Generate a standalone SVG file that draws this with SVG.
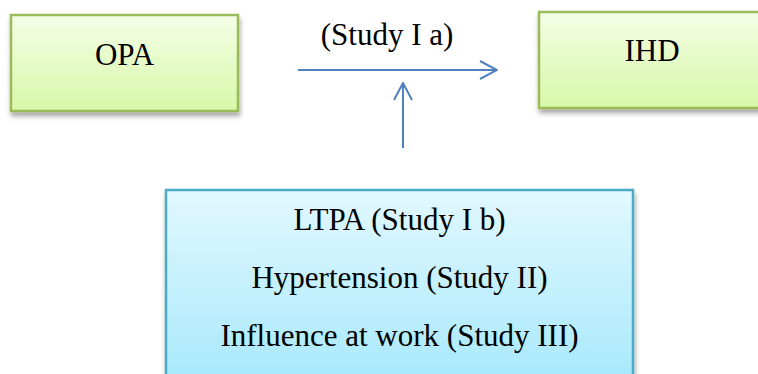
<svg xmlns="http://www.w3.org/2000/svg" width="758" height="374" viewBox="0 0 758 374">
<style>
.t{font-family:"Liberation Serif","Times New Roman",serif;font-size:31px;fill:#000;text-anchor:middle}
.g{fill:url(#gg);stroke:#9bbb59;stroke-width:2.5;filter:url(#sh)}
.b{fill:url(#bg);stroke:#4bacc6;stroke-width:2.5;filter:url(#sh)}
.c{fill:none;stroke:#4f81bd;stroke-width:2}
</style>
<defs>
<linearGradient id="gg" x1="0" y1="0" x2="0" y2="1">
<stop offset="0" stop-color="#f5fee7"/>
<stop offset="1" stop-color="#d6f8a8"/>
</linearGradient>
<linearGradient id="bg" x1="0" y1="0" x2="0" y2="1">
<stop offset="0" stop-color="#e2f8ff"/>
<stop offset="1" stop-color="#a5e8fb"/>
</linearGradient>
<filter id="sh" x="-10%" y="-10%" width="120%" height="130%">
<feDropShadow dx="1" dy="4" stdDeviation="2.5" flood-color="#000" flood-opacity="0.35"/>
</filter>
<marker id="ah" viewBox="0 0 20 20" refX="19" refY="10" markerWidth="20" markerHeight="20" markerUnits="userSpaceOnUse" orient="auto">
<path d="M2,1 L19,10 L2,19" fill="none" stroke="#4f81bd" stroke-width="2"/>
</marker>
</defs>
<g id="opa">
<rect class="g" x="11" y="15" width="227" height="96"/>
<text class="t" x="124.5" y="65">OPA</text>
</g>
<g id="ihd">
<rect class="g" x="539" y="12" width="226" height="96"/>
<text class="t" x="652" y="61">IHD</text>
</g>
<g id="moderators">
<rect class="b" x="166" y="190" width="467" height="200"/>
<text class="t" x="399.5" y="230">LTPA (Study I b)</text>
<text class="t" x="399.5" y="288">Hypertension (Study II)</text>
<text class="t" x="399.5" y="346">Influence at work (Study III)</text>
</g>
<g id="connectors">
<line class="c" x1="298" y1="70" x2="497" y2="70" marker-end="url(#ah)"/>
<line class="c" x1="403" y1="148" x2="403" y2="83" marker-end="url(#ah)"/>
<text class="t" x="387" y="45">(Study I a)</text>
</g>
</svg>
